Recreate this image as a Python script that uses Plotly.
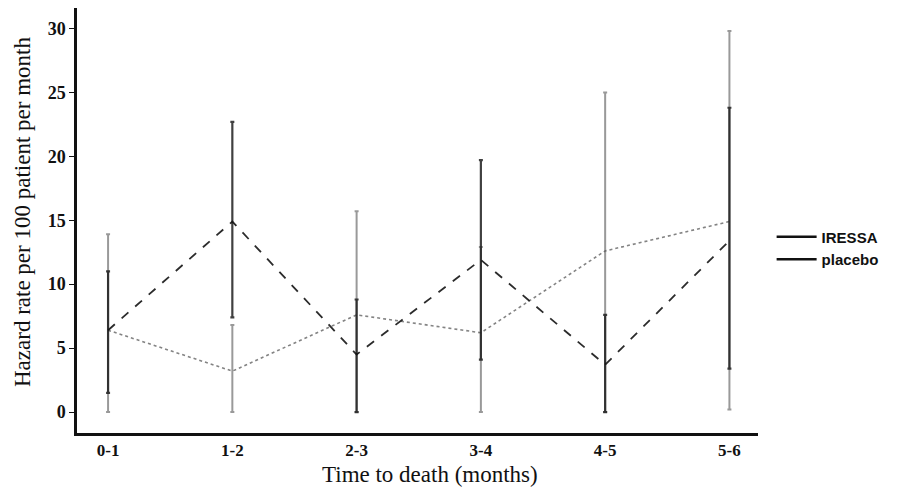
import plotly.graph_objects as go

categories = ["0-1", "1-2", "2-3", "3-4", "4-5", "5-6"]

iressa_rate = [6.4, 14.9, 4.5, 11.9, 3.7, 13.4]
iressa_low = [1.5, 7.4, 0.0, 4.1, 0.0, 3.4]
iressa_high = [11.0, 22.7, 8.8, 19.7, 7.6, 23.8]

placebo_rate = [6.4, 3.2, 7.6, 6.2, 12.6, 14.9]
placebo_low = [0.0, 0.0, 0.0, 0.0, 0.0, 0.2]
placebo_high = [13.9, 6.8, 15.7, 12.9, 25.0, 29.8]

y_ticks = [0, 5, 10, 15, 20, 25, 30]

xs = list(range(len(categories)))

L, R, T, B = 69, 161, 0, 70
PW, PH = 911 - L - R, 495 - T - B

fig = go.Figure()

fig.add_trace(go.Scatter(
    x=xs, y=placebo_rate, name="placebo", mode="lines",
    line=dict(color="rgba(90,90,90,0.75)", width=1.6, dash="dot"),
    error_y=dict(type="data", symmetric=False,
                 array=[h - r for h, r in zip(placebo_high, placebo_rate)],
                 arrayminus=[r - l for r, l in zip(placebo_rate, placebo_low)],
                 color="rgba(110,110,110,0.7)", thickness=2, width=2),
    showlegend=False,
))
fig.add_trace(go.Scatter(
    x=xs, y=iressa_rate, name="IRESSA", mode="lines",
    line=dict(color="rgba(20,20,20,0.9)", width=1.8, dash="dash"),
    error_y=dict(type="data", symmetric=False,
                 array=[h - r for h, r in zip(iressa_high, iressa_rate)],
                 arrayminus=[r - l for r, l in zip(iressa_rate, iressa_low)],
                 color="rgba(30,30,30,0.85)", thickness=2.2, width=2),
    showlegend=False,
))

# legend entries (solid black samples as in the reference)
fig.add_trace(go.Scatter(x=[None], y=[None], name="IRESSA", mode="lines",
                         line=dict(color="#111", width=2.5)))
fig.add_trace(go.Scatter(x=[None], y=[None], name="placebo", mode="lines",
                         line=dict(color="#111", width=2.5)))

fig.update_layout(
    width=911, height=495,
    margin=dict(l=L, r=R, t=T, b=B),
    paper_bgcolor="white", plot_bgcolor="white",
    font=dict(family="Liberation Serif", color="#111"),
    legend=dict(x=1.02, xanchor="left", y=0.50, yanchor="top",
                font=dict(family="Liberation Sans", size=15, weight="bold", color="#111"),
                tracegroupgap=0, itemwidth=40, bgcolor="rgba(0,0,0,0)"),
    xaxis=dict(
        range=[-0.25, 5.23], tickmode="array", tickvals=xs, ticktext=categories,
        showgrid=False, zeroline=False, showline=True, linecolor="#111", linewidth=2.5,
        ticks="", automargin=False,
        tickfont=dict(family="Liberation Serif", size=17, weight="bold", color="#111"),
    ),
    yaxis=dict(
        range=[-1.64, 31.6], tickmode="array", tickvals=y_ticks,
        showgrid=False, zeroline=False, showline=True, linecolor="#111", linewidth=2.5,
        ticks="outside", ticklen=5, tickwidth=1, tickcolor="#111", automargin=False,
        tickfont=dict(family="Liberation Serif", size=18, weight="bold", color="#111"),
    ),
    annotations=[
        dict(text="Time to death (months)", xref="paper", yref="paper",
             x=(422 - L) / PW, y=-(466 - (T + PH)) / PH,
             xanchor="center", yanchor="middle", showarrow=False,
             font=dict(family="Liberation Serif", size=23, color="#111")),
        dict(text="Hazard rate per 100 patient per month", xref="paper", yref="paper",
             x=-(L - 14) / PW, y=((T + PH) - 204) / PH, textangle=-90,
             xanchor="center", yanchor="middle", showarrow=False,
             font=dict(family="Liberation Serif", size=23, color="#111")),
    ],
)

fig.write_html("out.html")
